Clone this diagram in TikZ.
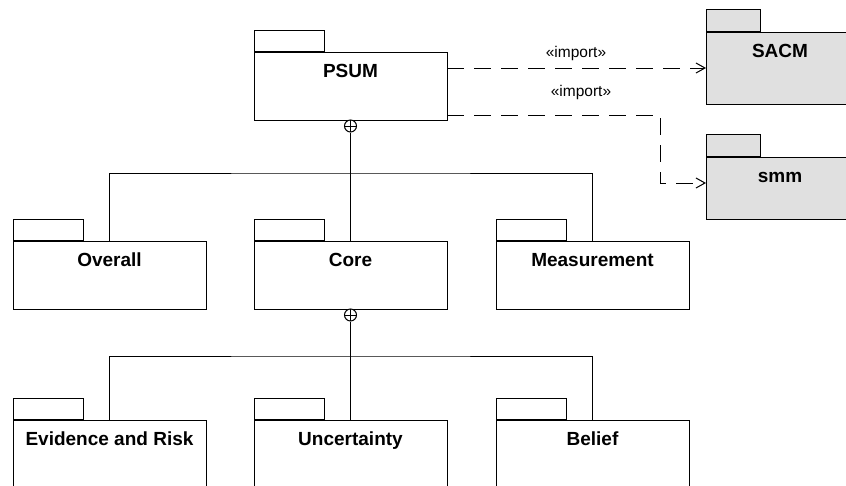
\documentclass[tikz,border=0pt]{standalone}
\usepackage{fontspec}
\setmainfont{Liberation Sans}
\usetikzlibrary{arrows.meta}
\definecolor{pkggray}{HTML}{E0E0E0}
\tikzset{
  package/.style={draw, rectangle, anchor=north west, inner sep=0pt, outer sep=0pt,
    minimum width=193pt, text height=25.5pt, text depth=42.5pt,
    font=\fontsize{19}{22}\selectfont\bfseries},
  extpackage/.style={package, fill=pkggray, minimum width=148pt},
  nest/.style={draw, circle, fill=white, minimum size=12pt, inner sep=0pt,
    path picture={\draw (path picture bounding box.north) -- (path picture bounding box.south)
      (path picture bounding box.west) -- (path picture bounding box.east);}},
  import/.style={dash pattern=on 17pt off 10pt, -{Straight Barb[length=9pt,width=10pt]}},
  stereo/.style={font=\fontsize{15.5}{18}\selectfont}
}
\begin{document}
\begin{tikzpicture}[x=1pt,y=-1pt,line width=1pt]
\clip (0,0) rectangle (846,485);
\node[package] (psum) at (254,52) {PSUM};
\node[package] (overall) at (13,241) {Overall};
\node[package] (core) at (254,241) {Core};
\node[package] (measurement) at (496,241) {Measurement};
\node[package] (evidence) at (13,420) {Evidence and Risk};
\node[package] (uncertainty) at (254,420) {Uncertainty};
\node[package] (belief) at (496,420) {Belief};
\node[extpackage, text depth=46.5pt] (sacm) at (706,32) {SACM};
\node[extpackage, text depth=36.5pt] (smm) at (706,157) {smm};
% tabs
\foreach \p in {psum,overall,core,measurement,evidence,uncertainty,belief} {
  \draw (\p.north west) rectangle ++(70,-22);
  \draw[line width=1.8pt] (\p.north west) -- ++(70,0);
}
\foreach \p in {sacm,smm} {
  \draw[fill=pkggray] (\p.north west) rectangle ++(54,-23);
  \draw[line width=1.8pt] (\p.north west) -- ++(54,0);
}
% nesting
\node[nest] (psumnest) at ([yshift=-6pt]psum.south) {};
\coordinate (psumbar) at (350.5,173);
\draw (psumnest.south) -- (core.north);
\draw (overall.north) |- (psumbar) -| (measurement.north);
\node[nest] (corenest) at ([yshift=-6pt]core.south) {};
\coordinate (corebar) at (350.5,356);
\draw (corenest.south) -- (uncertainty.north);
\draw (evidence.north) |- (corebar) -| (belief.north);
% imports
\draw[import] (psum.east |- sacm.west) -- (sacm.west);
\draw[import] ([yshift=5pt]psum.south east) -- ++(213,0) |- ([yshift=5pt]smm.west);
\node[stereo] (importsacm) at (576,53) {«import»};
\node[stereo] (importsmm) at (581,92) {«import»};
\end{tikzpicture}
\end{document}
